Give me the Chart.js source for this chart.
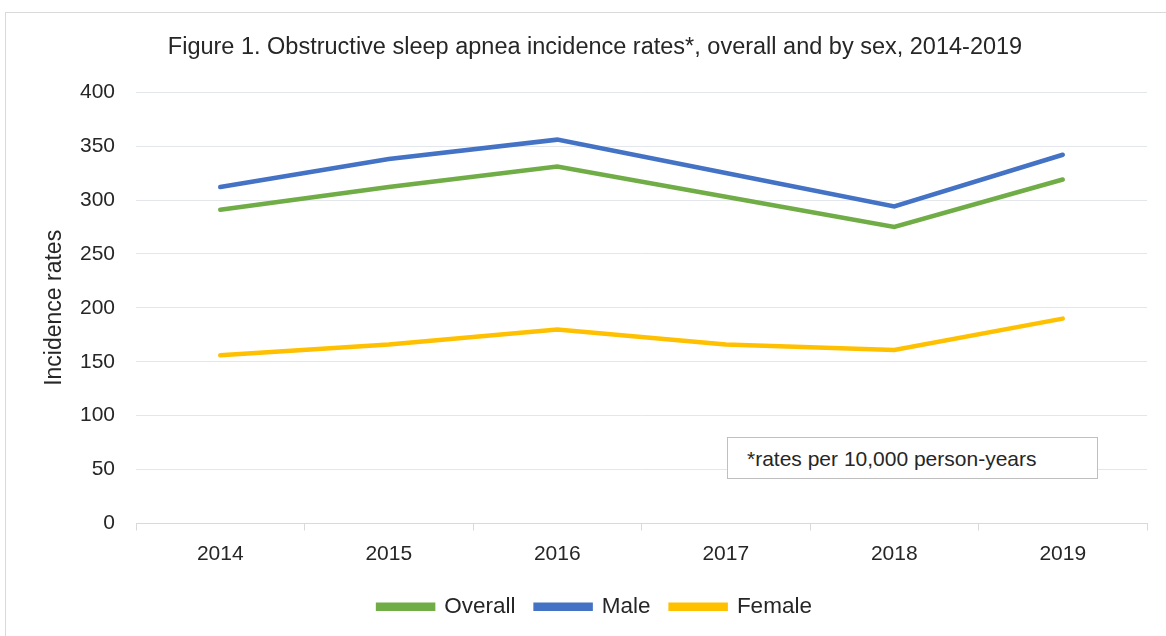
<!DOCTYPE html>
<html lang="en">
<head>
    <meta charset="UTF-8">
    <title>Obstructive sleep apnea incidence rates</title>
    <script src="https://cdn.jsdelivr.net/npm/chart.js"></script>
    <style>
        body {
            margin: 0;
            background: #fff;
            font-family: "Liberation Sans", Arial, sans-serif;
        }
        .frame {
            position: absolute;
            left: 5px;
            top: 12px;
            width: 1200px;
            height: 700px;
            border: 1px solid #d9d9d9;
        }
        .chart-container {
            position: absolute;
            left: 0;
            top: 0;
            width: 1166px;
            height: 636px;
        }
        .note {
            position: absolute;
            left: 727px;
            top: 437px;
            width: 350px;
            height: 40px;
            border: 1px solid #bfbfbf;
            background: #fff;
            font-size: 21px;
            line-height: 42px;
            padding-left: 19px;
            box-sizing: content-box;
            color: #262626;
        }
    </style>
</head>
<body>
    <div class="frame"></div>
    <div class="chart-container">
        <canvas id="apneaChart"></canvas>
    </div>
    <div class="note">*rates per 10,000 person-years</div>

    <script>
        // Values
        const years = ['2014', '2015', '2016', '2017', '2018', '2019'];
        const overallRates = [291, 312, 331, 303, 275, 319];
        const maleRates = [312, 338, 356, 325, 294, 342];
        const femaleRates = [156, 166, 180, 166, 161, 190];

        const textColor = '#262626';
        const fontFamily = '"Liberation Sans", Arial, sans-serif';

        const ctx = document.getElementById('apneaChart').getContext('2d');
        new Chart(ctx, {
            type: 'line',
            data: {
                labels: years,
                datasets: [
                    { label: 'Overall', data: overallRates, borderColor: '#70ad47', backgroundColor: '#70ad47' },
                    { label: 'Male', data: maleRates, borderColor: '#4472c4', backgroundColor: '#4472c4' },
                    { label: 'Female', data: femaleRates, borderColor: '#ffc000', backgroundColor: '#ffc000' }
                ]
            },
            options: {
                responsive: true,
                maintainAspectRatio: false,
                animation: false,
                datasets: {
                    line: {
                        borderWidth: 4.5,
                        pointRadius: 0,
                        tension: 0,
                        borderCapStyle: 'round'
                    }
                },
                layout: {
                    padding: { left: 43, right: 19, top: 12, bottom: 8 }
                },
                plugins: {
                    title: {
                        display: true,
                        text: 'Figure 1. Obstructive sleep apnea incidence rates*, overall and by sex, 2014-2019',
                        color: textColor,
                        font: { family: fontFamily, size: 23.5, weight: 'normal' },
                        padding: { top: 21, bottom: 31 }
                    },
                    legend: {
                        position: 'bottom',
                        labels: {
                            color: textColor,
                            font: { family: fontFamily, size: 22.5 },
                            boxWidth: 55,
                            boxHeight: 4,
                            padding: 20
                        }
                    },
                    tooltip: { enabled: false }
                },
                scales: {
                    x: {
                        offset: true,
                        grid: {
                            offset: true,
                            drawOnChartArea: false,
                            drawTicks: true,
                            tickLength: 7,
                            color: '#d9d9d9'
                        },
                        border: { color: '#d9d9d9', width: 1 },
                        ticks: {
                            color: textColor,
                            font: { family: fontFamily, size: 21 },
                            padding: 11,
                            maxRotation: 0
                        },
                        afterFit: scale => { scale.height = 52; }
                    },
                    y: {
                        min: 0,
                        max: 400,
                        ticks: {
                            stepSize: 50,
                            color: textColor,
                            font: { family: fontFamily, size: 21 },
                            padding: 21
                        },
                        grid: {
                            color: '#e3e6eb',
                            drawTicks: false
                        },
                        border: { display: false },
                        title: {
                            display: true,
                            text: 'Incidence rates',
                            color: textColor,
                            font: { family: fontFamily, size: 23, lineHeight: 1 },
                            padding: { top: 0, bottom: 0 }
                        },
                        afterFit: scale => { scale.width = 93; }
                    }
                }
            }
        });
    </script>
</body>
</html>
